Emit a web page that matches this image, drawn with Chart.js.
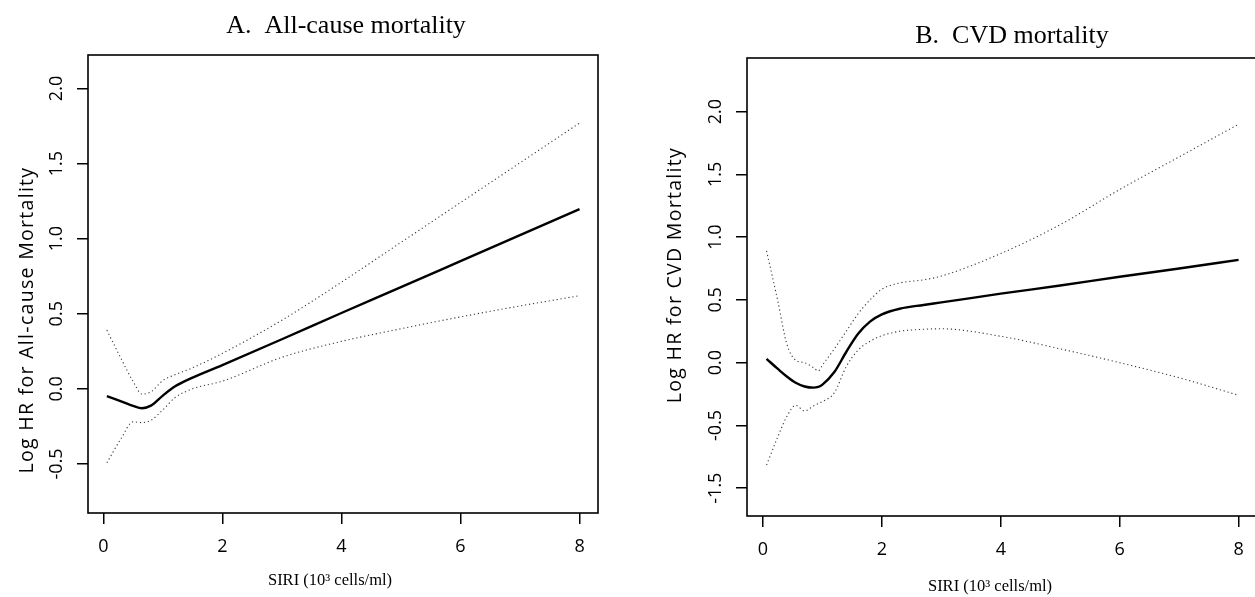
<!DOCTYPE html>
<html>
<head>
<meta charset="utf-8">
<script src="https://cdn.jsdelivr.net/npm/chart.js@4"></script>
<style>
  html, body { margin: 0; padding: 0; background: #fff; overflow: hidden; width: 1255px; height: 597px; }
  canvas { position: absolute; top: 0; }
  #allChart { left: 0; }
  #cvdChart { left: 630px; }
</style>
</head>
<body>
<canvas id="allChart" width="620" height="597"></canvas>
<canvas id="cvdChart" width="640" height="597"></canvas>
<script>
'use strict';

// shared x ticks (SIRI)
const xTicks = [0, 2, 4, 6, 8];

// A. All-cause mortality
const allX     = [0.06, 0.3, 0.5, 0.65, 0.8, 1.0, 1.2, 1.5, 2, 3, 4, 5, 6, 7, 8];
const allFit   = [-0.049, -0.083, -0.113, -0.129, -0.112, -0.045, 0.015, 0.075, 0.158, 0.33, 0.505, 0.677, 0.85, 1.023, 1.196];
const allUpper = [0.391, 0.2, 0.05, -0.035, -0.02, 0.055, 0.093, 0.14, 0.236, 0.457, 0.71, 0.975, 1.24, 1.505, 1.77];
const allLower = [-0.493, -0.33, -0.22, -0.225, -0.21, -0.14, -0.06, 0.0, 0.051, 0.21, 0.316, 0.40, 0.479, 0.552, 0.62];
const allYTicks  = [-0.5, 0, 0.5, 1, 1.5, 2];
const allYLabels = ['-0.5', '0.0', '0.5', '1.0', '1.5', '2.0'];

// B. CVD mortality
const cvdX     = [0.06, 0.25, 0.4, 0.55, 0.7, 0.85, 0.93, 1.0, 1.2, 1.4, 1.6, 1.8, 2.0, 2.3, 2.7, 3, 4, 5, 6, 7, 8];
const cvdFit   = [0.03, -0.05, -0.11, -0.16, -0.19, -0.199, -0.193, -0.175, -0.075, 0.085, 0.23, 0.327, 0.385, 0.43, 0.46, 0.48, 0.55, 0.615, 0.685, 0.75, 0.819];
const cvdUpper = [0.89, 0.49, 0.15, 0.02, 0.0, -0.04, -0.066, -0.02, 0.11, 0.25, 0.39, 0.5, 0.585, 0.635, 0.66, 0.69, 0.87, 1.1, 1.38, 1.64, 1.9];
const cvdLower = [-0.816, -0.59, -0.43, -0.34, -0.385, -0.345, -0.325, -0.31, -0.24, -0.032, 0.1, 0.17, 0.215, 0.25, 0.266, 0.27, 0.21, 0.11, 0.0, -0.12, -0.26];
// the published figure labels its lowest tick "-1.5"
const cvdYTicks  = [-1, -0.5, 0, 0.5, 1, 1.5, 2];
const cvdYLabels = ['-1.5', '-0.5', '0.0', '0.5', '1.0', '1.5', '2.0'];

// box around the plot region
const frame = {
  id: 'frame',
  afterDatasetsDraw(chart) {
    const {ctx, chartArea: a} = chart;
    ctx.save();
    ctx.strokeStyle = '#000';
    ctx.lineWidth = 1.6;
    ctx.strokeRect(a.left, a.top, a.right - a.left, a.bottom - a.top);
    ctx.restore();
  }
};

// panel title + axis titles
const panelText = {
  id: 'panelText',
  afterDraw(chart, args, o) {
    const ctx = chart.ctx;
    ctx.save();
    ctx.fillStyle = '#000';
    ctx.textAlign = 'center';
    ctx.textBaseline = 'alphabetic';
    ctx.font = '26px "Liberation Serif"';
    ctx.fillText(o.title, o.titleX, o.titleY);
    ctx.font = '16.5px "Liberation Serif"';
    ctx.fillText(o.xTitle, o.xTitleX, o.xTitleY);
    ctx.translate(o.yTitleX, o.yTitleY);
    ctx.rotate(-Math.PI / 2);
    ctx.textBaseline = 'middle';
    ctx.font = '19.5px "Open Sans"';
    ctx.letterSpacing = '1.3px';
    ctx.fillText(o.yTitle, 0, 0);
    ctx.restore();
  }
};

function toPoints(xs, ys) {
  return xs.map((x, i) => ({x: x, y: ys[i]}));
}

function lineSet(xs, ys, solid) {
  return {
    data: toPoints(xs, ys),
    borderColor: solid ? '#000' : '#3a3a3a',
    borderWidth: solid ? 2.4 : 1.1,
    borderDash: solid ? [] : [1.2, 2.8],
    pointRadius: 0,
    cubicInterpolationMode: 'monotone',
    fill: false
  };
}

const tickFont = {family: 'Open Sans', size: 18};
const tickGrid = {drawOnChartArea: false, drawTicks: true, tickLength: 11, color: '#000', lineWidth: 1.5};

function makePanel(id, xs, fit, upper, lower, p) {
  return new Chart(document.getElementById(id), {
    type: 'line',
    data: {
      datasets: [lineSet(xs, upper, false), lineSet(xs, lower, false), lineSet(xs, fit, true)]
    },
    options: {
      responsive: false,
      animation: false,
      layout: {padding: {left: 0, top: p.top, right: p.right, bottom: 0}},
      plugins: {
        legend: {display: false},
        tooltip: {enabled: false},
        panelText: p.text
      },
      scales: {
        x: {
          type: 'linear',
          min: p.xMin, max: p.xMax,
          afterBuildTicks: s => { s.ticks = xTicks.map(v => ({value: v})); },
          afterFit: s => { s.height = p.xAxisH; },
          ticks: {font: tickFont, color: '#000', padding: 12.5, maxRotation: 0, autoSkip: false, callback: v => String(v)},
          grid: tickGrid,
          border: {display: false}
        },
        y: {
          type: 'linear',
          min: p.yMin, max: p.yMax,
          afterBuildTicks: s => { s.ticks = p.yTicks.map(v => ({value: v})); },
          afterFit: s => { s.width = p.yAxisW; },
          ticks: {font: tickFont, color: '#000', padding: 5, minRotation: 90, maxRotation: 90, crossAlign: 'center', autoSkip: false,
                  callback: (v, i) => p.yLabels[i]},
          grid: tickGrid,
          border: {display: false}
        }
      }
    },
    plugins: [frame, panelText]
  });
}

makePanel('allChart', allX, allFit, allUpper, allLower, {
  top: 55, right: 22, xAxisH: 84, yAxisW: 88,
  xMin: -0.257, xMax: 8.31, yMin: -0.827, yMax: 2.223,
  yTicks: allYTicks, yLabels: allYLabels,
  text: {
    title: 'A.  All-cause mortality', titleX: 346, titleY: 33,
    xTitle: 'SIRI (10³ cells/ml)', xTitleX: 330, xTitleY: 585,
    yTitle: 'Log HR for All-cause Mortality', yTitleX: 27.5, yTitleY: 320
  }
});

makePanel('cvdChart', cvdX, cvdFit, cvdUpper, cvdLower, {
  top: 58, right: 13, xAxisH: 81, yAxisW: 117,
  xMin: -0.269, xMax: 8.31, yMin: -1.222, yMax: 2.428,
  yTicks: cvdYTicks, yLabels: cvdYLabels,
  text: {
    title: 'B.  CVD mortality', titleX: 382, titleY: 43,
    xTitle: 'SIRI (10³ cells/ml)', xTitleX: 360, xTitleY: 591,
    yTitle: 'Log HR for CVD Mortality', yTitleX: 45, yTitleY: 275
  }
});
</script>
</body>
</html>
